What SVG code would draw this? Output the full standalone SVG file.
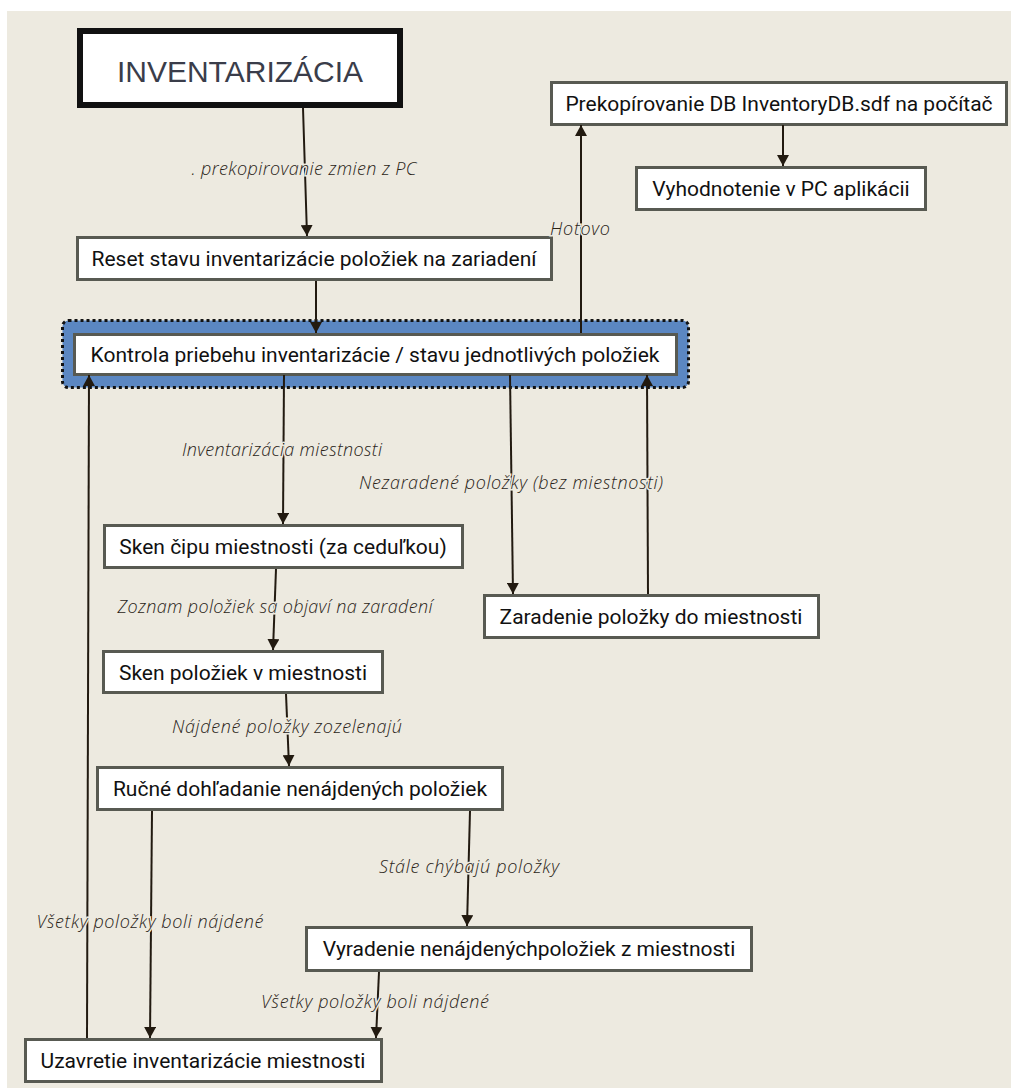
<svg xmlns="http://www.w3.org/2000/svg" width="1011" height="1090" viewBox="0 0 1011 1090">
<defs>
<marker id="ah" markerUnits="userSpaceOnUse" markerWidth="12" markerHeight="12" refX="11" refY="6" orient="auto">
<path d="M0,0 L11,6 L0,12 z" fill="#221a10"/>
</marker>
<style>
.bg{fill:#edeae0}
.box{fill:#ffffff;stroke:#585a52;stroke-width:3}
.t{font-family:Roboto,"Liberation Sans",sans-serif;font-size:21px;fill:#111111;text-anchor:middle}
.lbl{font-family:"Open Sans",Lato,sans-serif;font-style:italic;font-weight:300;font-size:18px;fill:#2a2418;text-anchor:middle;stroke:#edeae0;stroke-width:3;paint-order:stroke}
.c{fill:none;stroke:#221a10;stroke-width:2;marker-end:url(#ah)}
</style>
</defs>
<rect x="0" y="0" width="1011" height="1090" fill="#ffffff"/>
<rect class="bg" x="7" y="11" width="1004" height="1077"/>

<g id="n-inventarizacia">
<rect x="80" y="31" width="320" height="74" fill="#ffffff" stroke="#111111" stroke-width="6"/>
<text x="240" y="82" font-family="'Liberation Sans',Arial,sans-serif" font-size="30" fill="#3a3d4a" text-anchor="middle">INVENTARIZÁCIA</text>
</g>
<g id="n-reset">
<rect class="box" x="77.5" y="237.5" width="474" height="42"/>
<text class="t" x="314" y="266">Reset stavu inventarizácie položiek na zariadení</text>
</g>
<g id="n-prekopirovanie">
<rect class="box" x="551.5" y="82.5" width="455" height="42"/>
<text class="t" x="779" y="111">Prekopírovanie DB InventoryDB.sdf na počítač</text>
</g>
<g id="n-vyhodnotenie">
<rect class="box" x="636.5" y="167.5" width="289" height="42"/>
<text class="t" x="781" y="196">Vyhodnotenie v PC aplikácii</text>
</g>
<g id="n-kontrola">
<rect x="62.5" y="320.5" width="626" height="67" rx="6" fill="#5b87c2" stroke="#111111" stroke-width="3" stroke-dasharray="3 3"/>
<rect class="box" x="74.5" y="334.5" width="602" height="40"/>
<text class="t" x="375" y="362">Kontrola priebehu inventarizácie / stavu jednotlivých položiek</text>
</g>
<g id="n-sken-cipu">
<rect class="box" x="104.5" y="525.5" width="358" height="42"/>
<text class="t" x="283" y="554">Sken čipu miestnosti (za ceduľkou)</text>
</g>
<g id="n-zaradenie">
<rect class="box" x="484.5" y="595.5" width="334" height="42"/>
<text class="t" x="651" y="624">Zaradenie položky do miestnosti</text>
</g>
<g id="n-sken-poloziek">
<rect class="box" x="103.5" y="651.5" width="279" height="41"/>
<text class="t" x="243" y="680">Sken položiek v miestnosti</text>
</g>
<g id="n-rucne">
<rect class="box" x="97.5" y="767.5" width="405" height="42"/>
<text class="t" x="300" y="796">Ručné dohľadanie nenájdených položiek</text>
</g>
<g id="n-vyradenie">
<rect class="box" x="306.5" y="927.5" width="445" height="43"/>
<text class="t" x="529" y="956">Vyradenie nenájdenýchpoložiek z miestnosti</text>
</g>
<g id="n-uzavretie">
<rect class="box" x="25.5" y="1039.5" width="356" height="42"/>
<text class="t" x="203" y="1068">Uzavretie inventarizácie miestnosti</text>
</g>

<g id="connectors">
<path class="c" d="M303,108 L307,236"/>
<path class="c" d="M316,281 L316,333"/>
<path class="c" d="M581,333 L581,125"/>
<path class="c" d="M783,125 L783,166"/>
<path class="c" d="M284,375 L283,524"/>
<path class="c" d="M510,375 L513,594"/>
<path class="c" d="M648,594 L647,375"/>
<path class="c" d="M276,569 L273,650"/>
<path class="c" d="M286,694 L289,766"/>
<path class="c" d="M152,811 L150,1038"/>
<path class="c" d="M470,811 L467,926"/>
<path class="c" d="M379,972 L376,1038"/>
<path class="c" d="M87,1038 L89,375"/>
<text class="lbl" x="304" y="175" textLength="225" lengthAdjust="spacing">. prekopirovanie zmien z PC</text>
<text class="lbl" x="580" y="235" textLength="60" lengthAdjust="spacing">Hotovo</text>
<text class="lbl" x="282" y="456" textLength="200" lengthAdjust="spacing">Inventarizácia miestnosti</text>
<text class="lbl" x="511" y="489" textLength="304" lengthAdjust="spacing">Nezaradené položky (bez miestnosti)</text>
<text class="lbl" x="275" y="613" textLength="315" lengthAdjust="spacing">Zoznam položiek sa objaví na zaradení</text>
<text class="lbl" x="287" y="733" textLength="230" lengthAdjust="spacing">Nájdené položky zozelenajú</text>
<text class="lbl" x="469" y="873" textLength="180" lengthAdjust="spacing">Stále chýbajú položky</text>
<text class="lbl" x="150" y="928" textLength="227" lengthAdjust="spacing">Všetky položky boli nájdené</text>
<text class="lbl" x="375" y="1008" textLength="228" lengthAdjust="spacing">Všetky položky boli nájdené</text>
</g>
</svg>
